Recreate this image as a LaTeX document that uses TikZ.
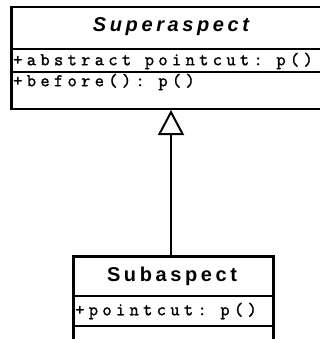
\documentclass[tikz,border=0pt]{standalone}
\usepackage{fontspec}
\setmainfont{Liberation Sans}
\setmonofont[LetterSpace=24,FakeBold=1.5]{Latin Modern Mono}
\newfontfamily\titlef[LetterSpace=18]{Liberation Sans}
\usetikzlibrary{arrows.meta}
\begin{document}
\begin{tikzpicture}[x=1pt,y=-1pt,
  boxline/.style={line width=2.5pt},
  sepline/.style={line width=2.2pt},
  umlbox/.style={draw, boxline, anchor=north west, inner sep=0pt},
  titletext/.style={font=\titlef\fontsize{20}{20}\selectfont\bfseries, inner sep=0pt},
  membertext/.style={font=\ttfamily\fontsize{18}{18}\selectfont, anchor=west, inner sep=0pt},
  inherit/.style={line width=2pt, -{Triangle[open, width=26pt, length=25pt, line width=2pt]}}]
\useasboundingbox (0,0) rectangle (320,339);
\clip (0,0) rectangle (320,339);
% Superaspect
\node[umlbox, minimum width=322pt, minimum height=102pt] (supbox) at (10,6) {};
\draw[sepline] (10,49) -- (332,49);
\draw[sepline] (10,72) -- (332,72);
\node[titletext] (suptitle) at (171,27) {\itshape Superaspect};
\node[membertext] (supattr) at (13,61) {+abstract pointcut: p()};
\node[membertext] (supop) at (13,82) {+before(): p()};
% Subaspect
\node[umlbox, minimum width=200pt, minimum height=84pt] (subbox) at (72,255) {};
\draw[sepline] (72,296) -- (272,296);
\draw[sepline] (72,326) -- (272,326);
\node[titletext] (subtitle) at (172,276) {Subaspect};
\node[membertext] (subattr) at (75,311) {+pointcut: p()};
% generalization
\draw[inherit] (subbox.north -| 171,0) -- (171,110);
\end{tikzpicture}
\end{document}
